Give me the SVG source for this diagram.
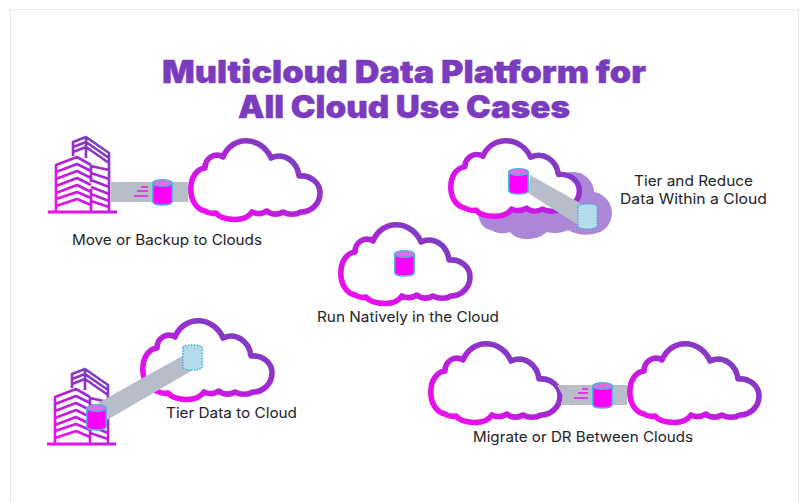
<svg xmlns="http://www.w3.org/2000/svg" width="800" height="502" viewBox="0 0 800 502">
<style>
.lbl{font-family:"Inter","Open Sans","Liberation Sans",sans-serif;font-size:14.5px;font-weight:400;fill:#22222c}
.ttl{font-family:"Inter","Liberation Sans",sans-serif;font-size:31px;font-weight:900;fill:#7a3bbe;stroke:#7a3bbe;stroke-width:0.4}
.band{fill:#b7bdc9}
.speed{stroke:#f012ee;stroke-width:1.3;fill:none}
</style>
<defs>
<linearGradient id="grad" x1="0.05" y1="0.95" x2="0.95" y2="0.1">
<stop offset="0.1" stop-color="#ee0cf0"/><stop offset="0.5" stop-color="#b022d8"/><stop offset="0.9" stop-color="#7442bc"/>
</linearGradient>
<linearGradient id="gradb" gradientUnits="userSpaceOnUse" x1="55" y1="212" x2="108" y2="145">
<stop offset="0.1" stop-color="#f00cf0"/><stop offset="0.55" stop-color="#b022d8"/><stop offset="1" stop-color="#7442bc"/>
</linearGradient>
<path id="cloud" fill="#fff" stroke="url(#grad)" stroke-width="5.6" stroke-linejoin="round" d="M2.8,51C2.8,39 9,31 17,30C17,20 27,14 35,19C39,9 48,2.8 58,2.8C69,2.8 79,10 83,20C96,14 109,23 111,38C123,37 132,45 132,55C132,66 123,74 113,74C108,77 100,77 95,74C90,77 83,77 79,73C74,76 68,76 64,74C60,80 54,81.5 47,81.5C39,81.5 32,80 28,75C24,76 20,75 17,73C8,71 2.8,62 2.8,51Z"/>
<g id="bld">
<path fill="none" stroke="url(#gradb)" stroke-width="2.6" stroke-linejoin="round" d="M56,211V165L77,157L91,165M91,165V182M91,189V211M56,172L77,164L91,171M56,179L77,171L91,178M56,186L77,178L91,185M56,193L77,185L91,192M56,199L77,192L91,198M56,206L77,199L91,205M73,156V142L86,137L109,153V211M86,137V158M73,147L86,142L109,158M73,152L86,147L109,163M91,166L109,170M91,173L109,179M91,180L109,187M91,187L109,194M91,194L109,201M91,201L109,207"/>
<path fill="none" stroke="url(#gradb)" stroke-width="3" d="M48,212H117"/>
</g>
<g id="cyl">
<path d="M0.8,4V22.5C0.8,24.8 5,26 10.5,26C16,26 20.2,24.8 20.2,22.5V4Z" fill="#ff00ff" stroke="#4cb4d8" stroke-width="1.5"/>
<ellipse cx="10.5" cy="4" rx="9.7" ry="3.2" fill="#e86ae8" stroke="#4cb4d8" stroke-width="1.5"/>
</g>
<g id="cylg">
<path d="M0.8,4V22.5C0.8,24.8 5,26 10.5,26C16,26 20.2,24.8 20.2,22.5V4C20.2,1.8 16,1 10.5,1C5,1 0.8,1.8 0.8,4Z" fill="#b5dcec" stroke="#3aa6d0" stroke-width="1.4" stroke-dasharray="1.4 1.4"/>
</g>
</defs>
<rect id="page" x="10.5" y="9.5" width="788" height="500" fill="#fff" stroke="#e8e8e8"/>
<text class="ttl" x="404" y="83" text-anchor="middle" textLength="484" lengthAdjust="spacingAndGlyphs">Multicloud Data Platform for</text>
<text class="ttl" x="404" y="118" text-anchor="middle" textLength="332" lengthAdjust="spacingAndGlyphs">All Cloud Use Cases</text>
<g id="cloud-shadow"><path fill="#ab86d9" d="M478,215C480,224 484,229 491,230C497,234 504,234 510,232C515,238 521,239 527,239C535,239 541,237 547,232C554,234 562,233 568,230C576,235 589,236 597,233C606,231 612,222 612,213C612,202 603,193 594,192C594,183 586,172 573,172C562,172 552,178 548,190C530,200 500,205 478,215Z"/></g>
<g id="cloud-backup"><use href="#cloud" x="188" y="138"/></g>
<g id="cloud-reduce"><use href="#cloud" transform="translate(448,138) scale(0.995,0.96)"/></g>
<g id="cloud-native"><use href="#cloud" x="338" y="222"/></g>
<g id="cloud-tier"><use href="#cloud" x="140" y="318"/></g>
<g id="cloud-mig-a"><use href="#cloud" x="428" y="341"/></g>
<g id="cloud-mig-b"><use href="#cloud" x="627" y="341"/></g>
<g id="building-backup"><use href="#bld"/></g>
<g id="building-tier"><use href="#bld" transform="translate(-1,232)"/></g>
<g id="connectors">
<rect class="band" x="111" y="182" width="77" height="20"/>
<polygon class="band" points="530,175 580,203 578,225 528,193"/>
<polygon class="band" points="98,403 184,355 193,370 107,420"/>
<polygon class="band" points="557,385 627,385 627,405 561,405 563,396"/>
<path class="speed" d="M141,187H148M137,191H148M134,196H148"/>
<path class="speed" d="M582,389H588M578,393H588M574,398H588"/>
</g>
<g id="cyl-backup"><use href="#cyl" x="152" y="179"/></g>
<g id="cyl-reduce-a"><use href="#cyl" x="508" y="168"/></g>
<g id="cyl-reduce-b"><use href="#cylg" x="577" y="203"/></g>
<g id="cyl-native"><use href="#cyl" x="394" y="250"/></g>
<g id="cyl-tier-a"><use href="#cyl" x="86" y="404"/></g>
<g id="cyl-tier-b"><use href="#cylg" x="182" y="344"/></g>
<g id="cyl-mig"><use href="#cyl" x="592" y="382"/></g>
<text class="lbl" x="72" y="245" textLength="190" lengthAdjust="spacingAndGlyphs">Move or Backup to Clouds</text>
<text class="lbl" x="634" y="186" textLength="119" lengthAdjust="spacingAndGlyphs">Tier and Reduce</text>
<text class="lbl" x="620" y="204" textLength="147" lengthAdjust="spacingAndGlyphs">Data Within a Cloud</text>
<text class="lbl" x="317" y="322" textLength="182" lengthAdjust="spacingAndGlyphs">Run Natively in the Cloud</text>
<text class="lbl" x="166" y="418" textLength="131" lengthAdjust="spacingAndGlyphs">Tier Data to Cloud</text>
<text class="lbl" x="473" y="442" textLength="220" lengthAdjust="spacingAndGlyphs">Migrate or DR Between Clouds</text>
</svg>
